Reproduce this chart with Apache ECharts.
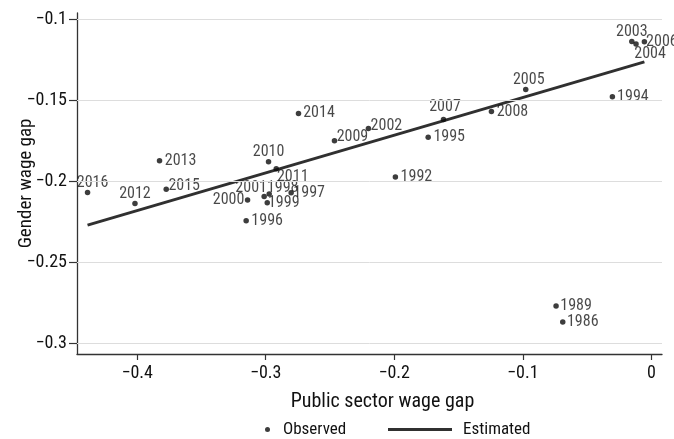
<!DOCTYPE html>
<html>
<head>
<meta charset="utf-8">
<script src="https://cdn.jsdelivr.net/npm/echarts@6/dist/echarts.min.js"></script>
<style>
  html, body { margin: 0; padding: 0; background: #fff; }
  #chart { width: 674px; height: 439px; }
</style>
</head>
<body>
<div id="chart"></div>
<script>
// Survey years shown as point labels
const years = [1986, 1989, 1992, 1994, 1995, 1996, 1997, 1998, 1999, 2000, 2001,
  2002, 2003, 2004, 2005, 2006, 2007, 2008, 2009, 2010, 2011, 2012, 2013, 2014, 2015, 2016];

// Public sector wage gap (x) per year
const publicGap = [-0.0689, -0.0741, -0.1991, -0.0303, -0.1736, -0.3152, -0.2802, -0.2973, -0.2988, -0.3141, -0.3012,
  -0.2201, -0.0152, -0.0119, -0.0977, -0.0054, -0.1617, -0.1244, -0.2465, -0.2978, -0.2918, -0.4017, -0.3826, -0.2745, -0.3774, -0.4386];

// Gender wage gap (y) per year
const genderGap = [-0.2869, -0.2770, -0.1973, -0.1478, -0.1728, -0.2243, -0.2070, -0.2078, -0.2132, -0.2115, -0.2093,
  -0.1673, -0.1136, -0.1152, -0.1432, -0.1138, -0.1617, -0.1568, -0.1749, -0.1879, -0.1922, -0.2136, -0.1873, -0.1580, -0.2049, -0.2068];

// Fitted line end points
const fitX = [-0.4386, -0.0054];
const fitY = [-0.2270, -0.1262];

// Axis tick values
const xTicks = [-0.4, -0.3, -0.2, -0.1, 0];
const yTicks = [-0.3, -0.25, -0.2, -0.15, -0.1];

// Where each year label sits relative to its dot (px offset of label centre)
const labelOffset = {
  1986: [20, 0], 1989: [20, 0], 1992: [21, 0], 1994: [20.5, 0], 1995: [21, 0],
  1996: [21, 0], 1997: [18, 0], 1998: [13.5, -6], 1999: [16.5, 0.5], 2000: [-19, 0],
  2001: [-13, -8], 2002: [18, -2], 2003: [0, -9], 2004: [14, 9.5], 2005: [3, -9.5],
  2006: [17.5, 0], 2007: [1.5, -12], 2008: [21, 1], 2009: [18, -4], 2010: [0, -10],
  2011: [16.5, 8], 2012: [0, -9], 2013: [21, 0], 2014: [20.5, 0], 2015: [18, -3.5],
  2016: [5, -9]
};

const FONT = "'Liberation Sans Narrow', 'Roboto Condensed', 'DejaVu Sans Condensed', sans-serif";
const INK = '#0d0d0d';
const TEXT = '#111';
const minus = v => String(v).replace('-', '\u2212');

const chart = echarts.init(document.getElementById('chart'), null, { renderer: 'canvas' });

chart.setOption({
  animation: false,
  backgroundColor: '#fff',
  textStyle: { fontFamily: FONT },
  grid: { left: 77, right: 12, top: 13, bottom: 85, containLabel: false, outerBoundsMode: 'none' },
  xAxis: {
    type: 'value',
    min: -0.4468,
    max: 0.0083,
    name: 'Public sector wage gap',
    nameLocation: 'middle',
    nameGap: 38,
    nameMoveOverlap: false,
    nameTextStyle: { fontFamily: FONT, fontSize: 20, color: TEXT, padding: [0, 0, 0, 26] },
    axisLine: { show: true, onZero: false, lineStyle: { color: '#333', width: 1.3 } },
    axisTick: { show: true, length: 6, customValues: xTicks, lineStyle: { color: '#333', width: 1.2 } },
    axisLabel: { customValues: xTicks, margin: 10, fontFamily: FONT, fontSize: 18, color: TEXT, formatter: minus },
    splitLine: { show: false }
  },
  yAxis: {
    type: 'value',
    min: -0.3066,
    max: -0.096,
    name: 'Gender wage gap',
    nameLocation: 'middle',
    nameRotate: 90,
    nameGap: 41,
    nameMoveOverlap: false,
    nameTextStyle: { fontFamily: FONT, fontSize: 19, color: TEXT },
    axisLine: { show: true, onZero: false, lineStyle: { color: '#333', width: 1.3 } },
    axisTick: { show: true, length: 8, customValues: yTicks, lineStyle: { color: '#333', width: 1.2 } },
    axisLabel: { customValues: yTicks, margin: 10, fontFamily: FONT, fontSize: 18, color: TEXT, formatter: minus },
    splitLine: { show: false }
  },
  legend: [
    {
      data: [{ name: 'Observed', icon: 'circle' }],
      left: 265, top: 421, padding: 0,
      itemWidth: 5, itemHeight: 5,
      textStyle: { fontFamily: FONT, fontSize: 17, color: TEXT, padding: [0, 0, 0, 8] }
    },
    {
      data: [{ name: 'Estimated', icon: 'rect' }],
      left: 388, top: 421, padding: 0,
      itemWidth: 64, itemHeight: 3,
      textStyle: { fontFamily: FONT, fontSize: 17, color: TEXT, padding: [0, 0, 0, 6] }
    }
  ],
  series: [
    {
      // horizontal reference lines at each y tick
      name: 'grid',
      type: 'line',
      data: [],
      z: 1,
      silent: true,
      markLine: {
        silent: true,
        symbol: 'none',
        label: { show: false },
        lineStyle: { color: '#dddddd', width: 1, type: 'solid' },
        data: yTicks.map(v => ({ yAxis: v }))
      }
    },
    {
      name: 'Estimated',
      type: 'line',
      z: 2,
      data: fitX.map((x, i) => [x, fitY[i]]),
      showSymbol: false,
      symbol: 'none',
      lineStyle: { color: '#303030', width: 3 },
      itemStyle: { color: '#303030' }
    },
    {
      name: 'Observed',
      type: 'scatter',
      z: 3,
      symbol: 'circle',
      symbolSize: 5.5,
      itemStyle: { color: INK },
      label: {
        show: true,
        position: 'inside',
        align: 'center',
        verticalAlign: 'middle',
        fontFamily: FONT,
        fontSize: 16,
        color: '#1a1a1a',
        formatter: p => String(years[p.dataIndex])
      },
      labelLayout: p => {
        const off = labelOffset[years[p.dataIndex]];
        return { dx: off[0], dy: off[1], hideOverlap: false };
      },
      data: publicGap.map((x, i) => [x, genderGap[i]])
    }
  ]
});
</script>
</body>
</html>
